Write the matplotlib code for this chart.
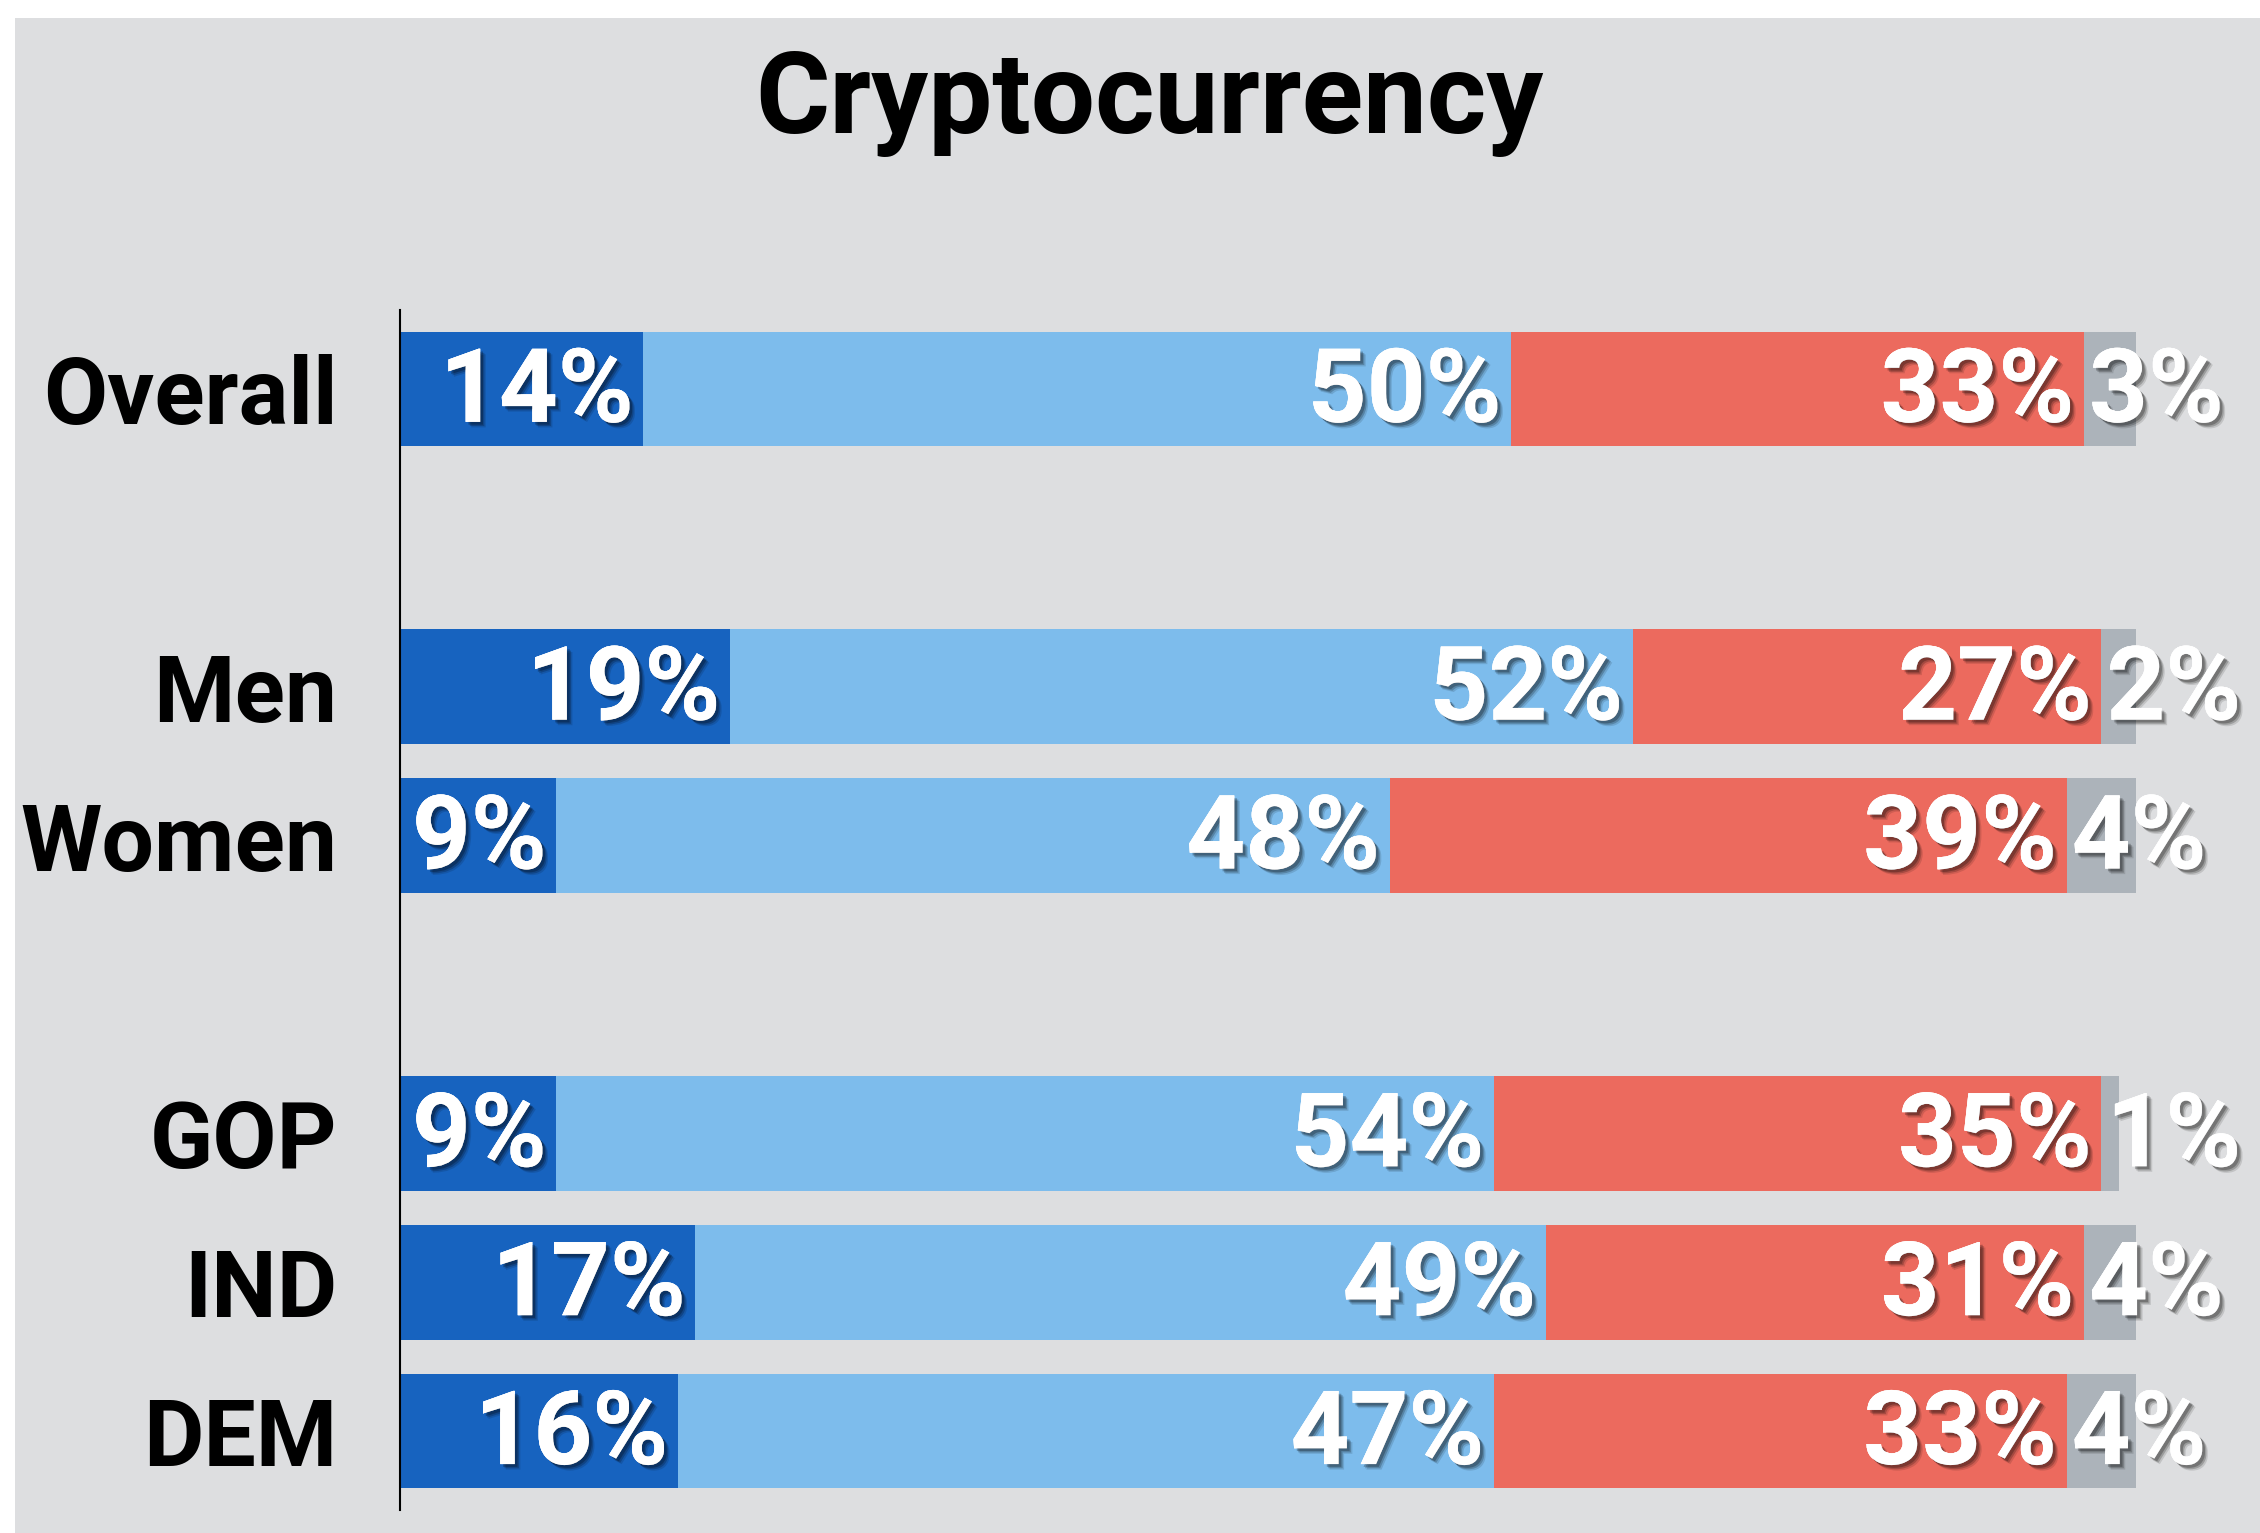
import numpy as np
import matplotlib
matplotlib.use("Agg")
import matplotlib.pyplot as plt
import matplotlib.patheffects as pe
from matplotlib.patches import Rectangle

groups = ["Overall", "Men", "Women", "GOP", "IND", "DEM"]
positions = [0, 2, 3, 5, 6, 7]
strong_yes = [14, 19, 9, 9, 17, 16]
somewhat = [50, 52, 48, 54, 49, 47]
no = [33, 27, 39, 35, 31, 33]
unsure = [3, 2, 4, 1, 4, 4]

colors = ["#1763BF", "#7DBCEC", "#EC6A5E", "#ACB3BA"]
bg = "#DDDEE0"
plt.rcParams['font.family'] = ['Roboto', 'DejaVu Sans']

fig = plt.figure(figsize=(22.6, 15.33), dpi=100, facecolor="white")
fig.patches.append(Rectangle((15 / 2260, 0), 1, 1 - 18 / 1533, transform=fig.transFigure,
                             facecolor=bg, edgecolor="none", zorder=-10))

ax = fig.add_axes([400 / 2260, 1 - 1510 / 1533, (2136 - 400) / 2260, (1510 - 310) / 1533])
ax.set_facecolor("none")

# soft drop shadow, built from a few offset copies
shadow = [pe.withSimplePatchShadow(offset=(4, -4), shadow_rgbFace="black", alpha=0.12),
          pe.withSimplePatchShadow(offset=(3, -3), shadow_rgbFace="black", alpha=0.2),
          pe.withSimplePatchShadow(offset=(2, -2), shadow_rgbFace="black", alpha=0.25)]

series = [strong_yes, somewhat, no, unsure]
left = np.zeros(len(groups))
for k, vals in enumerate(series):
    vals = np.array(vals)
    ax.barh(positions, vals, left=left, height=0.77, color=colors[k], edgecolor="none")
    for y, l, v in zip(positions, left, vals):
        if k < 3:
            ax.text(l + v - 0.55, y + 0.03, f"{v}%", ha="right", va="center", color="white",
                    fontsize=74, fontweight="bold", path_effects=shadow, clip_on=False)
        else:
            ax.text(l + 0.3, y + 0.03, f"{v}%", ha="left", va="center", color="white",
                    fontsize=74, fontweight="bold", path_effects=shadow, clip_on=False)
    left = left + vals

ax.set_xlim(0, 100)
ax.set_ylim(7.53, -0.53)
ax.set_yticks(positions)
ax.set_yticklabels(groups, fontsize=67, fontweight="bold")
ax.tick_params(axis="y", length=0, pad=45)
ax.set_xticks([])
for s in ["top", "right", "bottom"]:
    ax.spines[s].set_visible(False)
ax.spines["left"].set_linewidth(1.5)
ax.spines["left"].set_color("black")

fig.text(1149 / 2260, 1 - 103 / 1533, "Cryptocurrency", ha="center", va="center",
         fontsize=82, fontweight="bold")

plt.savefig("out.png", dpi=100, facecolor=fig.get_facecolor())
